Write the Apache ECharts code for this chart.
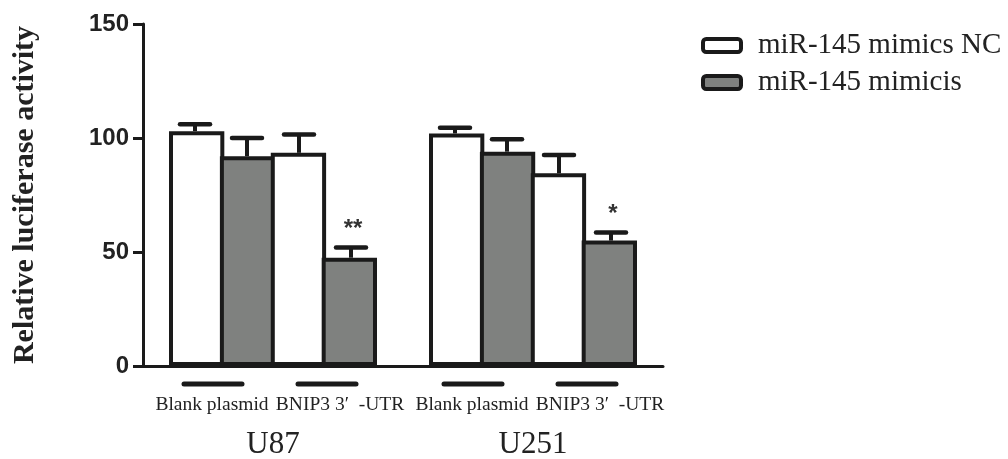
<!DOCTYPE html>
<html>
<head>
    <meta charset="utf-8">
    <title>Relative luciferase activity</title>
    <style type="text/css">
        body {
            margin: 0;
            background: #fff;
        }
        html, body, #main {
            width: 1008px;
            height: 459px;
        }
    </style>
</head>
<body>
    <div id="main"></div>
    <script src="https://cdn.jsdelivr.net/npm/echarts@6/dist/echarts.min.js"></script>
    <script>
        // data
        var groups = ['U87', 'U251'];
        var subgroups = ['Blank plasmid', 'BNIP3 3\u2032  -UTR'];
        var seriesNames = ['miR-145 mimics NC', 'miR-145 mimicis'];

        // bar order inside each cell line: NC/blank, mimic/blank, NC/BNIP3, mimic/BNIP3
        var ncBlank = [103, 102];
        var mimicBlank = [92, 94];
        var ncUtr = [93.5, 84.5];
        var mimicUtr = [47.5, 55];

        var errNcBlank = [3, 2.5];
        var errMimicBlank = [8, 5.5];
        var errNcUtr = [8, 8];
        var errMimicUtr = [4.5, 3.5];

        var starsMimicUtr = ['**', '*'];

        var yMin = 0, yMax = 150, yStep = 50;

        var dark = '#1a1a1a';
        var grey = '#7f817f';
        var serif = '"Liberation Serif", "DejaVu Serif", serif';
        var sans = '"Liberation Sans", Arial, sans-serif';

        var barSets = [
            { name: seriesNames[0], values: ncBlank, err: errNcBlank, fill: '#fff', stars: ['', ''] },
            { name: seriesNames[1], values: mimicBlank, err: errMimicBlank, fill: grey, stars: ['', ''] },
            { name: seriesNames[0], values: ncUtr, err: errNcUtr, fill: '#fff', stars: ['', ''] },
            { name: seriesNames[1], values: mimicUtr, err: errMimicUtr, fill: grey, stars: starsMimicUtr }
        ];
        var nBars = barSets.length;
        var catGap = 0.2;

        var chart = echarts.init(document.getElementById('main'));

        var series = barSets.map(function (s) {
            return {
                name: s.name,
                type: 'bar',
                barGap: '-8%',
                barCategoryGap: (catGap * 100) + '%',
                data: s.values,
                itemStyle: {
                    color: s.fill,
                    borderColor: dark,
                    borderWidth: 4
                },
                emphasis: { disabled: true },
                z: 2
            };
        });

        // error bars + significance stars
        var errData = [];
        barSets.forEach(function (s, b) {
            s.values.forEach(function (v, g) {
                errData.push([g, b, v, s.err[g], s.stars[g]]);
            });
        });

        series.push({
            type: 'custom',
            data: errData,
            z: 3,
            silent: true,
            renderItem: function (params, api) {
                var g = api.value(0), b = api.value(1);
                var v = api.value(2), e = api.value(3);
                var star = errData[params.dataIndex][4];
                var band = api.size([1, 0])[0];
                var barW = band * (1 - catGap) / nBars;
                var base = api.coord([g, v]);
                var x = base[0] + (b - (nBars - 1) / 2) * barW;
                var top = api.coord([g, v + e])[1];
                var half = 15;
                var children = [
                    { type: 'line', shape: { x1: x, y1: base[1], x2: x, y2: top },
                      style: { stroke: dark, lineWidth: 4 } },
                    { type: 'line', shape: { x1: x - half, y1: top, x2: x + half, y2: top },
                      style: { stroke: dark, lineWidth: 4.5, lineCap: 'round' } }
                ];
                if (star) {
                    children.push({
                        type: 'text',
                        style: {
                            x: x + 2, y: top - 6, text: star,
                            align: 'center', verticalAlign: 'bottom',
                            font: 'bold 24px ' + sans, fill: '#333'
                        }
                    });
                }
                return { type: 'group', children: children };
            }
        });

        // sub-group underline + label below the axis
        var subData = [];
        groups.forEach(function (name, g) {
            subgroups.forEach(function (sub, k) {
                subData.push([g, k]);
            });
        });
        var lineShift = [-8, 2];
        var textShift = [-9, 15];

        series.push({
            type: 'custom',
            data: subData,
            silent: true,
            clip: false,
            renderItem: function (params, api) {
                var g = api.value(0), k = api.value(1);
                var band = api.size([1, 0])[0];
                var barW = band * (1 - catGap) / nBars;
                var p = api.coord([g, yMin]);
                var cx = p[0] + (k === 0 ? -barW : barW);
                return {
                    type: 'group',
                    children: [
                        { type: 'line',
                          shape: { x1: cx + lineShift[k] - 29, y1: p[1] + 18, x2: cx + lineShift[k] + 29, y2: p[1] + 18 },
                          style: { stroke: dark, lineWidth: 5, lineCap: 'round' } },
                        { type: 'text',
                          style: { x: cx + textShift[k], y: p[1] + 39, text: subgroups[k],
                                   align: 'center', verticalAlign: 'middle',
                                   font: '19.5px ' + serif, fill: '#222' } }
                    ]
                };
            }
        });

        chart.setOption({
            animation: false,
            grid: {
                left: 143,
                right: 345,
                top: 24,
                bottom: 93,
                outerBoundsMode: 'none'
            },
            legend: {
                orient: 'vertical',
                left: 696,
                top: 26,
                itemWidth: 38,
                itemHeight: 13,
                itemGap: 8,
                selectedMode: false,
                data: [
                    { name: seriesNames[0], itemStyle: { color: '#fff', borderColor: dark, borderWidth: 4 } },
                    { name: seriesNames[1], itemStyle: { color: grey, borderColor: dark, borderWidth: 4 } }
                ],
                textStyle: {
                    fontFamily: serif,
                    fontSize: 29,
                    color: '#222',
                    padding: [0, 0, 0, 12]
                }
            },
            xAxis: {
                type: 'category',
                data: groups,
                axisLine: { lineStyle: { color: dark, width: 3 } },
                axisTick: { alignWithLabel: true, length: 11, lineStyle: { color: dark, width: 3 } },
                axisLabel: {
                    margin: 79,
                    verticalAlign: 'middle',
                    fontFamily: serif,
                    fontSize: 31,
                    color: '#222'
                },
                splitLine: { show: false }
            },
            yAxis: {
                type: 'value',
                min: yMin,
                max: yMax,
                interval: yStep,
                name: 'Relative luciferase activity',
                nameLocation: 'middle',
                nameGap: 103,
                nameTextStyle: {
                    fontFamily: serif,
                    fontWeight: 'bold',
                    fontSize: 30,
                    color: '#222'
                },
                axisLine: { show: true, lineStyle: { color: dark, width: 3 } },
                axisTick: { show: true, length: 10, lineStyle: { color: dark, width: 3 } },
                axisLabel: {
                    margin: 14,
                    fontFamily: sans,
                    fontWeight: 'bold',
                    fontSize: 24,
                    color: '#222'
                },
                splitLine: { show: false }
            },
            series: series
        });

        window.addEventListener('resize', function () {
            chart.resize();
        });
    </script>
</body>
</html>
